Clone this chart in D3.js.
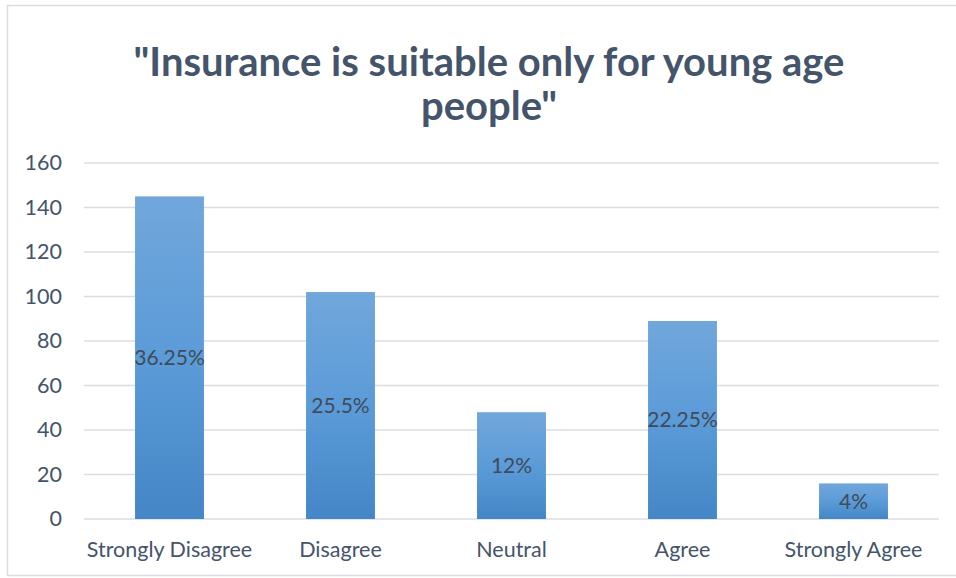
<!DOCTYPE html>
<html>
<head>
<meta charset="utf-8">
<script src="https://cdn.jsdelivr.net/npm/d3@7"></script>
<style>
  html, body { margin: 0; padding: 0; background: #fff; }
  svg { display: block; }
</style>
</head>
<body>
<svg id="chart" width="956" height="578"></svg>
<script>
// Survey responses: "Insurance is suitable only for young age people"
const categories = ["Strongly Disagree", "Disagree", "Neutral", "Agree", "Strongly Agree"];
const counts = [145, 102, 48, 89, 16];
const percentLabels = ["36.25%", "25.5%", "12%", "22.25%", "4%"];
const yTicks = [0, 20, 40, 60, 80, 100, 120, 140, 160];
const titleLines = ["\"Insurance is suitable only for young age", "people\""];

const svg = d3.select("#chart");
const W = 956, H = 578;
const margin = { left: 84, right: 17, top: 163, bottom: 59 };
const font = "Lato, 'Open Sans', sans-serif";

// outer chart frame
svg.append("rect")
  .attr("x", 7.5).attr("y", 5.5)
  .attr("width", 960).attr("height", 570)
  .attr("fill", "#fff")
  .attr("stroke", "#D9DDE3")
  .attr("stroke-width", 1.5);

const defs = svg.append("defs");
const grad = defs.append("linearGradient")
  .attr("id", "barGrad")
  .attr("x1", 0).attr("y1", 0).attr("x2", 0).attr("y2", 1);
grad.append("stop").attr("offset", "0%").attr("stop-color", "#71A7DB");
grad.append("stop").attr("offset", "50%").attr("stop-color", "#5B9BD8");
grad.append("stop").attr("offset", "100%").attr("stop-color", "#4486C6");

const x = d3.scaleBand()
  .domain(categories)
  .range([margin.left, W - margin.right])
  .paddingInner(0.597)
  .paddingOuter(0.2985);

const y = d3.scaleLinear()
  .domain([0, 160])
  .range([H - margin.bottom, margin.top]);

// gridlines
svg.append("g")
  .selectAll("line")
  .data(yTicks)
  .join("line")
  .attr("x1", margin.left)
  .attr("x2", W - margin.right)
  .attr("y1", d => y(d))
  .attr("y2", d => y(d))
  .attr("stroke", "#D9DDE3")
  .attr("stroke-width", 1.5);

// y axis labels
const yAxis = d3.axisLeft(y).tickValues(yTicks).tickSize(0).tickPadding(0);
const gy = svg.append("g")
  .attr("transform", `translate(62,0)`)
  .call(yAxis);
gy.select(".domain").remove();
gy.selectAll("text")
  .attr("font-family", font)
  .attr("font-size", 21.5)
  .attr("fill", "#44546A");

// bars
svg.append("g")
  .selectAll("rect")
  .data(counts)
  .join("rect")
  .attr("x", (d, i) => x(categories[i]))
  .attr("y", d => y(d))
  .attr("width", x.bandwidth())
  .attr("height", d => y(0) - y(d))
  .attr("fill", "url(#barGrad)");

// value labels centred in each bar
svg.append("g")
  .selectAll("text")
  .data(counts)
  .join("text")
  .attr("x", (d, i) => x(categories[i]) + x.bandwidth() / 2)
  .attr("y", d => (y(d) + y(0)) / 2)
  .attr("dy", "0.35em")
  .attr("text-anchor", "middle")
  .attr("font-family", font)
  .attr("font-size", 21)
  .attr("fill", "#404B5A")
  .text((d, i) => percentLabels[i]);

// x axis labels
const xAxis = d3.axisBottom(x).tickSize(0).tickPadding(0);
const gx = svg.append("g")
  .attr("transform", `translate(0,${H - margin.bottom + 23})`)
  .call(xAxis);
gx.select(".domain").remove();
gx.selectAll("text")
  .attr("font-family", font)
  .attr("font-size", 21.5)
  .attr("fill", "#44546A");

// title
svg.append("g")
  .selectAll("text")
  .data(titleLines)
  .join("text")
  .attr("x", 489)
  .attr("y", (d, i) => 62 + i * 44)
  .attr("dy", "0.35em")
  .attr("text-anchor", "middle")
  .attr("font-family", font)
  .attr("font-weight", "bold")
  .attr("font-size", 40)
  .attr("fill", "#44546A")
  .text(d => d);
</script>
</body>
</html>
